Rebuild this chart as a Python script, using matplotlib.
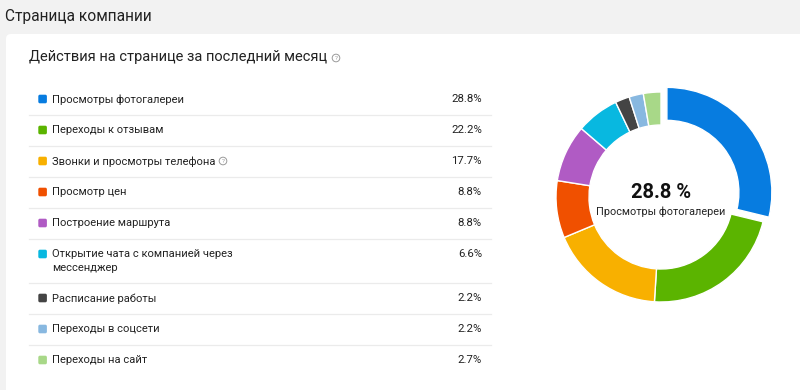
import matplotlib
matplotlib.use("Agg")
import matplotlib.pyplot as plt
from matplotlib.patches import FancyBboxPatch, Circle

plt.rcParams['font.family'] = ['Roboto', 'DejaVu Sans']

page_title = "Страница компании"
card_title = "Действия на странице за последний месяц"
categories = [
    "Просмотры фотогалереи",
    "Переходы к отзывам",
    "Звонки и просмотры телефона",
    "Просмотр цен",
    "Построение маршрута",
    "Открытие чата с компанией через\nмессенджер",
    "Расписание работы",
    "Переходы в соцсети",
    "Переходы на сайт",
]
values = [28.8, 22.2, 17.7, 8.8, 8.8, 6.6, 2.2, 2.2, 2.7]
colors = ["#077ce0", "#5bb400", "#f8b000", "#f05000", "#b05bc4",
          "#08b8e0", "#444444", "#88b8e0", "#a8d888"]
help_rows = [2]

W, H = 800, 390
fig = plt.figure(figsize=(W / 100, H / 100), dpi=100, facecolor="#f2f2f2")
ov = fig.add_axes([0, 0, 1, 1])
ov.set_xlim(0, W)
ov.set_ylim(H, 0)
ov.axis("off")
ov.set_facecolor("none")

# card
ov.add_patch(FancyBboxPatch((6, 34), 820, 400, boxstyle="round,pad=0,rounding_size=5",
                            facecolor="white", edgecolor="none", zorder=0))

ov.text(5, 16, page_title, fontsize=11.2, color="#222222", va="center", ha="left")
ov.text(29, 57, card_title, fontsize=10.5, color="#222222", va="center", ha="left")


def help_icon(x, y):
    ov.add_patch(Circle((x, y), 3.8, facecolor="none", edgecolor="#9a9a9a", lw=0.7, zorder=3))
    ov.text(x, y + 0.3, "?", fontsize=4.5, color="#9a9a9a", ha="center", va="center", zorder=3)


help_icon(336, 58)

row_y = [99, 130, 161, 192, 223, 254, 298, 329, 360]
sep_y = [115, 146, 177, 208, 239, 283, 314, 345]
for y in sep_y:
    ov.plot([29, 491], [y, y], color="#ebebeb", lw=0.9, zorder=1)

for i, (lab, val, c, y) in enumerate(zip(categories, values, colors, row_y)):
    ov.add_patch(FancyBboxPatch((38.3, y - 4.3), 8.6, 8.6, boxstyle="round,pad=0,rounding_size=1.6",
                                facecolor=c, edgecolor="none", zorder=2))
    ov.text(52, y - 4.6, lab, fontsize=8.0, color="#222222", va="top", ha="left",
            linespacing=1.45, zorder=2)
    ov.text(482, y, f"{val}%", fontsize=8.2, color="#222222", va="center", ha="right", zorder=2)
    if i in help_rows:
        help_icon(223, y)

# donut
cx, cy, R = 661, 197, 105
half = 130
ax = fig.add_axes([(cx - half) / W, (H - cy - half) / H, 2 * half / W, 2 * half / H])
explode = [7.5] + [0] * (len(values) - 1)
ax.pie(values, colors=colors, radius=R, startangle=90, counterclock=False, explode=explode,
       wedgeprops=dict(width=33, edgecolor="white", linewidth=1.0))
ax.set_xlim(-half, half)
ax.set_ylim(-half, half)
ax.set_aspect("equal")
ax.axis("off")
ax.text(0, 5, f"{values[0]} %", fontsize=14.5, fontweight="bold", color="#111111", ha="center", va="center")
ax.text(0, -15, categories[0], fontsize=7.8, color="#222222", ha="center", va="center")

fig.savefig("out.png", dpi=100, facecolor=fig.get_facecolor())
